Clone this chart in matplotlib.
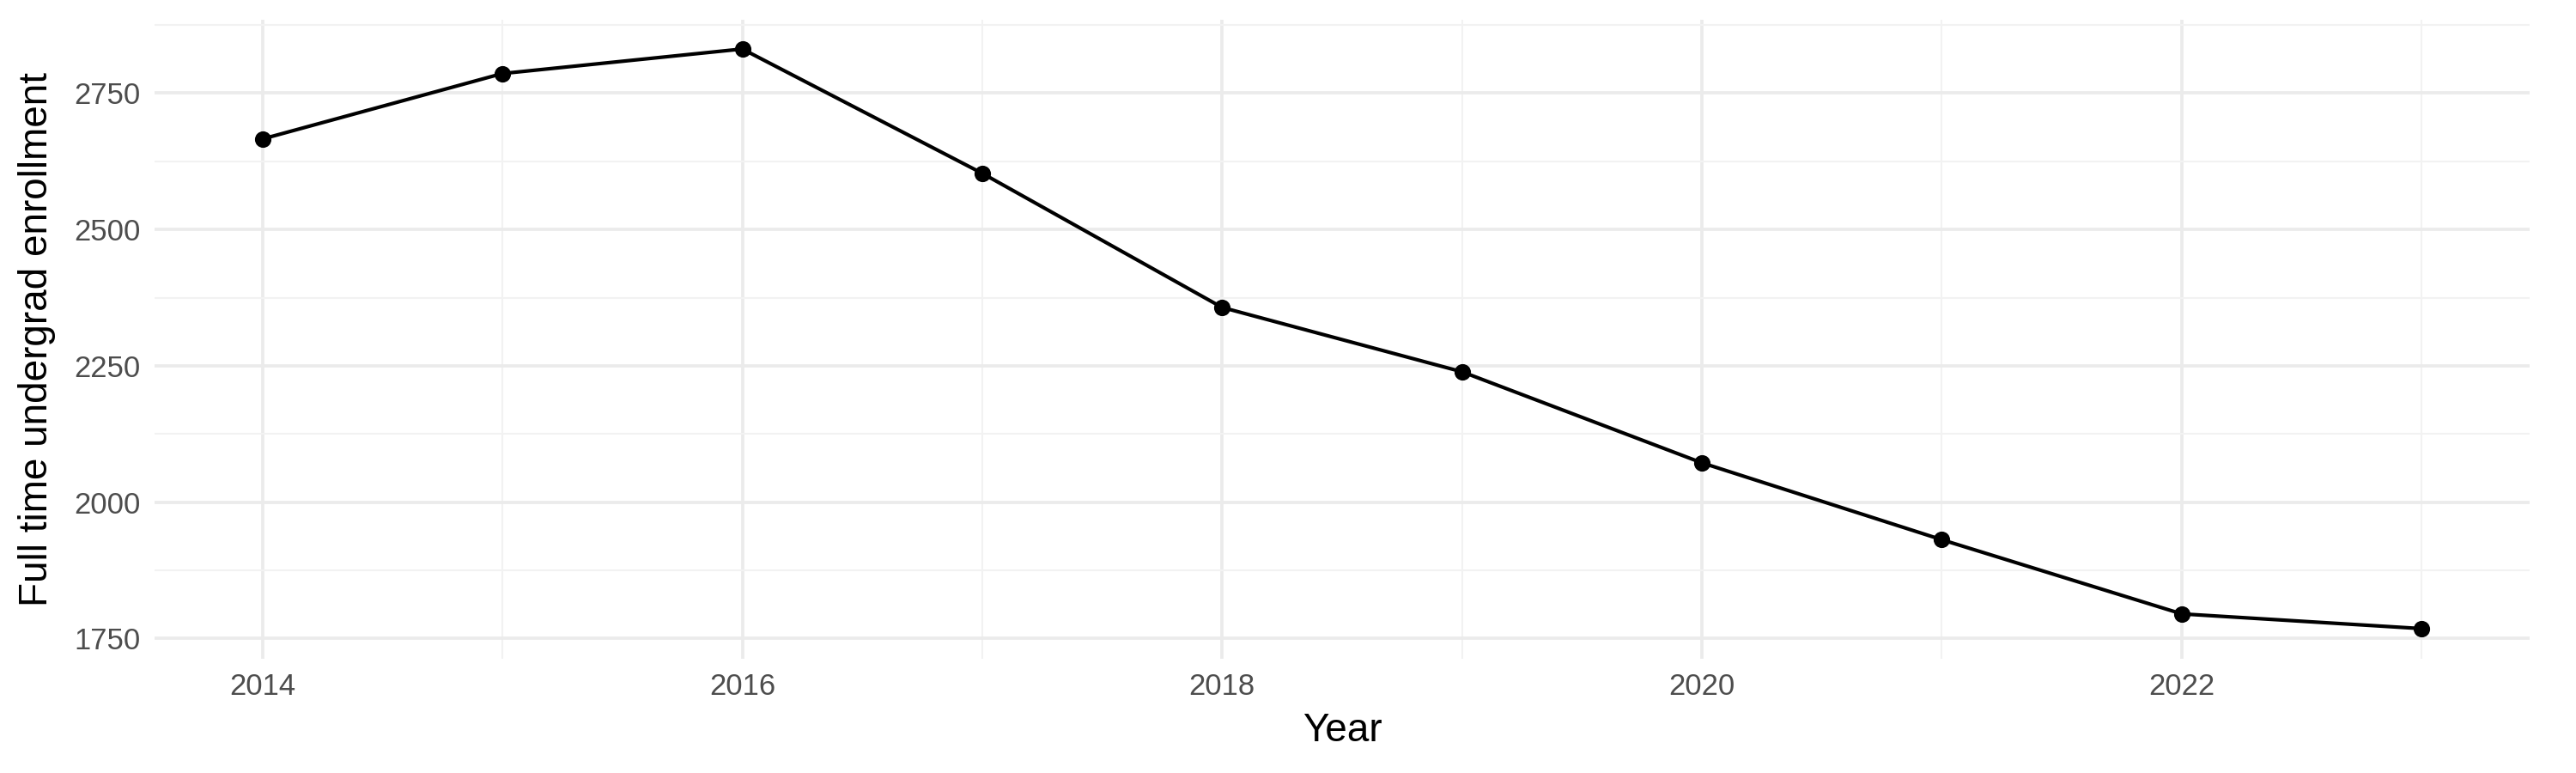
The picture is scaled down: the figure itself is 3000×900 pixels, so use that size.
import matplotlib
matplotlib.use("Agg")
import matplotlib.pyplot as plt
import numpy as np

years = [2014, 2015, 2016, 2017, 2018, 2019, 2020, 2021, 2022, 2023]
enrollment = [2666, 2786, 2831, 2603, 2357, 2239, 2072, 1931, 1795, 1768]
xticks = [2014, 2016, 2018, 2020, 2022]
yticks = [1750, 2000, 2250, 2500, 2750]

plt.rcParams['font.family'] = ['Liberation Sans', 'DejaVu Sans']
fig = plt.figure(figsize=(10, 3), dpi=300)
ax = fig.add_axes([0.06, 0.148, 0.922, 0.826])
ax.set_xlim(2013.55, 2023.45)
ax.set_ylim(1713, 2884)
ax.set_xticks(xticks)
ax.set_yticks(yticks)
ax.set_xticks([2015, 2017, 2019, 2021, 2023], minor=True)
ax.set_yticks([1875, 2125, 2375, 2625, 2875], minor=True)
ax.grid(which='major', color='#ebebeb', linewidth=0.9)
ax.grid(which='minor', color='#f2f2f2', linewidth=0.5)
ax.set_axisbelow(True)
for s in ax.spines.values():
    s.set_visible(False)
ax.tick_params(which='both', length=0, labelsize=8.3, labelcolor='#4d4d4d', pad=4)
ax.plot(years, enrollment, color='black', linewidth=1.0, marker='o', markersize=3.6)
ax.set_xlabel('Year', fontsize=11, labelpad=3)
ax.set_ylabel('Full time undergrad enrollment', fontsize=11, labelpad=5)
fig.savefig('out.png', dpi=300, facecolor='white')
